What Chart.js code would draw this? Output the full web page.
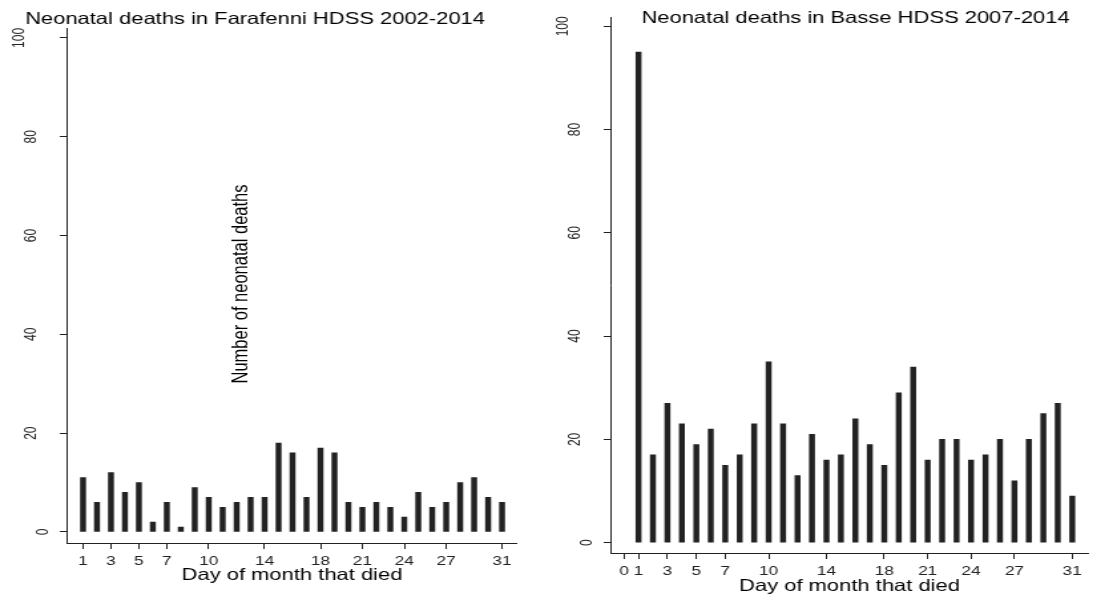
<!DOCTYPE html>
<html>
<head>
<meta charset="utf-8">
<title>Neonatal deaths by day of month</title>
<script src="https://cdn.jsdelivr.net/npm/chart.js@4.4.1/dist/chart.umd.min.js"></script>
<style>
  body { margin: 0; background: #fff; }
  .wrap { position: relative; width: 1113px; height: 596px; }
  canvas { position: absolute; top: 0; left: 0; }
</style>
</head>
<body>
<div class="wrap">
  <!-- drawn narrow, shown wide: the Stata export is stretched sideways -->
  <canvas id="farafenni" width="837" height="596" style="width:1113px;height:596px"></canvas>
  <canvas id="basse" width="837" height="596" style="width:1113px;height:596px"></canvas>
</div>
<script>
const days = [1, 2, 3, 4, 5, 6, 7, 8, 9, 10, 11, 12, 13, 14, 15, 16, 17, 18, 19, 20, 21, 22, 23, 24, 25, 26, 27, 28, 29, 30, 31]
const farafenniDeaths = [11, 6, 12, 8, 10, 2, 6, 1, 9, 7, 5, 6, 7, 7, 18, 16, 7, 17, 16, 6, 5, 6, 5, 3, 8, 5, 6, 10, 11, 7, 6]
const basseDeaths = [95, 17, 27, 23, 19, 22, 15, 17, 23, 35, 23, 13, 21, 16, 17, 24, 19, 15, 29, 34, 16, 20, 20, 16, 17, 20, 12, 20, 25, 27, 9]
const farafenniDayTicks = [1, 3, 5, 7, 10, 14, 18, 21, 24, 27, 31]
const basseDayTicks = [0, 1, 3, 5, 7, 10, 14, 18, 21, 24, 27, 31]
const countTicks = [0, 20, 40, 60, 80, 100]

const FONT = '"Liberation Sans", Arial, sans-serif'
Chart.defaults.font.family = FONT

// vertical y labels, titles and the floating y title, Stata style
const stataText = {
    id: "stataText",
    afterDraw(chart, args, opts) {
        const ctx = chart.ctx
        const y = chart.scales.y
        ctx.save()
        ctx.textAlign = "center"
        ctx.textBaseline = "middle"
        ctx.fillStyle = "#222"
        ctx.font = `12px ${FONT}`
        y.ticks.forEach((t) => {
            const label = String(t.value)
            ctx.save()
            ctx.translate(y.right - 8.5 - 9 * label.length, y.getPixelForValue(t.value))
            ctx.rotate(-Math.PI / 2)
            ctx.fillText(label, 0, 0)
            ctx.restore()
        })
        ctx.fillStyle = "#000"
        ctx.font = `16.5px ${FONT}`
        ctx.fillText(opts.title, opts.titleX, opts.titleY)
        if (opts.yTitle) {
            ctx.translate(opts.yTitleX, opts.yTitleY)
            ctx.rotate(-Math.PI / 2)
            ctx.fillText(opts.yTitle, 0, 0)
        }
        ctx.restore()
    }
}

function makeChart(id, deaths, dayTicks, box) {
    const points = days.map((d, i) => ({x: d, y: deaths[i]}))
    return new Chart(document.getElementById(id), {
        type: "bar",
        data: {
            datasets: [{
                data: points,
                backgroundColor: "#222",
                borderWidth: 0,
                barThickness: 3.8
            }]
        },
        options: {
            responsive: false,
            animation: false,
            devicePixelRatio: 1,
            layout: {padding: box.padding},
            plugins: {
                legend: {display: false},
                tooltip: {enabled: false},
                stataText: box.text
            },
            scales: {
                x: {
                    type: "linear",
                    min: box.xMin,
                    max: box.xMax,
                    offset: false,
                    afterBuildTicks: (s) => { s.ticks = dayTicks.map((v) => ({value: v})) },
                    afterFit: (s) => { s.height = box.xHeight },
                    grid: {display: true, offset: false, drawOnChartArea: false, drawTicks: true, tickLength: 6, color: "#222"},
                    border: {display: true, color: "#222", width: 1},
                    ticks: {color: "#222", font: {size: 13}, padding: 4.5, autoSkip: false, maxRotation: 0},
                    title: {
                        display: true,
                        text: "Day of month that died",
                        color: "#000",
                        font: {size: 16.5},
                        padding: {top: 0, bottom: box.xTitlePad}
                    }
                },
                y: {
                    min: box.yMin,
                    max: box.yMax,
                    afterBuildTicks: (s) => { s.ticks = countTicks.map((v) => ({value: v})) },
                    afterFit: (s) => { s.width = box.yWidth },
                    grid: {display: true, drawOnChartArea: false, drawTicks: true, tickLength: 5.5, color: "#222"},
                    border: {display: true, color: "#222", width: 1},
                    ticks: {display: false}
                }
            }
        },
        plugins: [stataText]
    })
}

makeChart("farafenni", farafenniDeaths, farafenniDayTicks, {
    padding: {left: 0, right: 448.2, top: 28, bottom: 5},
    yWidth: 50.4, xHeight: 48, xTitlePad: 6,
    xMin: -0.146, xMax: 32.07, yMin: -2.23, yMax: 102,
    text: {
        title: "Neonatal deaths in Farafenni HDSS 2002-2014", titleX: 191.8, titleY: 19,
        yTitle: "Number of neonatal deaths", yTitleX: 181.6, yTitleY: 284
    }
})

makeChart("basse", basseDeaths, basseDayTicks, {
    padding: {left: 0, right: 18.8, top: 17, bottom: 0},
    yWidth: 459.5, xHeight: 43, xTitlePad: 0,
    xMin: -0.9, xMax: 32.09, yMin: -2.0, yMax: 101.8,
    text: {title: "Neonatal deaths in Basse HDSS 2007-2014", titleX: 643.4, titleY: 18.3}
})
</script>
</body>
</html>
